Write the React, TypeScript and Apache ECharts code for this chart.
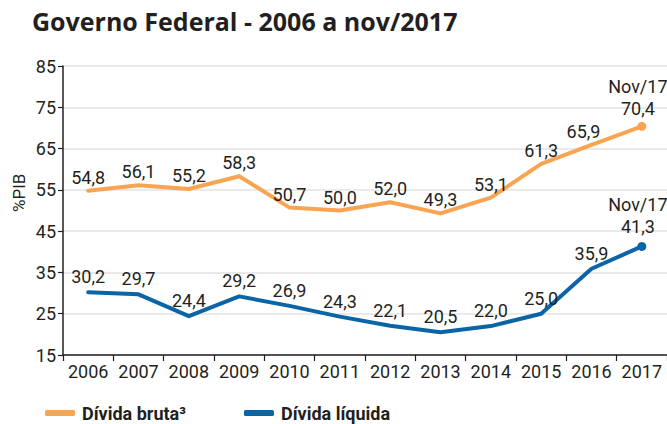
import React, { useEffect, useRef } from "react";
import * as echarts from "echarts";

const categories = ["2006", "2007", "2008", "2009", "2010", "2011", "2012", "2013", "2014", "2015", "2016", "2017"];
const dividaBruta = [54.8, 56.1, 55.2, 58.3, 50.7, 50.0, 52.0, 49.3, 53.1, 61.3, 65.9, 70.4];
const dividaLiquida = [30.2, 29.7, 24.4, 29.2, 26.9, 24.3, 22.1, 20.5, 22.0, 25.0, 35.9, 41.3];
const lastLabel = "Nov/17";

const COND = "Roboto, sans-serif";
const TXT = "#231f20";
const ORANGE = "#F8A452";
const BLUE = "#0A64A6";

const fmt = (v: number) => v.toFixed(1).replace(".", ",");

function makeData(values: number[], offsets: Record<number, [number, number]>) {
  return values.map((v, i) => {
    const last = i === values.length - 1;
    const item: any = { value: v };
    if (last) {
      item.symbolSize = 9;
    }
    if (offsets[i]) {
      item.label = { offset: offsets[i] };
    }
    return item;
  });
}

export default function App() {
  const ref = useRef<HTMLDivElement>(null);
  useEffect(() => {
    if (!ref.current) return;
    const chart = echarts.init(ref.current, undefined, { renderer: "svg" });
    const labelCfg = {
      show: true,
      position: "top",
      distance: 2,
      fontFamily: COND,
      fontSize: 18,
      color: TXT,
      lineHeight: 22,
      formatter: (p: any) =>
        p.dataIndex === categories.length - 1 ? lastLabel + "\n" + fmt(p.value) : fmt(p.value),
    };
    chart.setOption({
      animation: false,
      title: {
        text: "Governo Federal - 2006 a nov/2017",
        left: 32,
        top: 8,
        padding: 0,
        textStyle: { fontFamily: "'Open Sans'", fontWeight: "bold", fontSize: 25, color: TXT },
      },
      grid: { left: 63, right: 0, top: 66, bottom: 69, containLabel: false },
      legend: {
        left: 45,
        top: 404,
        padding: 0,
        itemWidth: 30,
        itemHeight: 6,
        itemGap: 58,
        icon: "roundRect",
        textStyle: {
          fontFamily: COND,
          fontSize: 18,
          fontWeight: "bold",
          color: TXT,
          padding: [0, 0, 0, 2],
        },
        data: ["Dívida bruta³", "Dívida líquida"],
      },
      graphic: [
        {
          type: "text",
          x: 10,
          y: 212,
          rotation: Math.PI / 2,
          style: { text: "%PIB", fontFamily: COND, fontSize: 17, fill: TXT },
        },
      ],
      xAxis: {
        type: "category",
        data: categories,
        boundaryGap: true,
        axisLine: { lineStyle: { color: TXT, width: 1.5 } },
        axisTick: { show: true, length: 6, inside: false, lineStyle: { color: TXT, width: 1.2 } },
        axisLabel: { fontFamily: COND, fontSize: 18, color: TXT, margin: 7, interval: 0 },
        splitLine: { show: false },
      },
      yAxis: {
        type: "value",
        min: 15,
        max: 85,
        interval: 10,
        axisLine: { show: true, lineStyle: { color: TXT, width: 1.5 } },
        axisTick: { show: true, length: 5, lineStyle: { color: TXT, width: 1.2 } },
        axisLabel: { fontFamily: COND, fontSize: 18, color: TXT, margin: 7 },
        splitLine: { show: true, lineStyle: { color: "#e3e3e3", width: 1.5 } },
      },
      series: [
        {
          name: "Dívida bruta³",
          type: "line",
          data: makeData(dividaBruta, { 10: [-8, 0], 11: [-4, 0] }),
          symbol: "circle",
          symbolSize: 1,
          showSymbol: true,
          color: ORANGE,
          lineStyle: { color: ORANGE, width: 4, cap: "round", join: "round" },
          itemStyle: { color: ORANGE },
          label: labelCfg,
        },
        {
          name: "Dívida líquida",
          type: "line",
          data: makeData(dividaLiquida, { 11: [-4, 0] }),
          symbol: "circle",
          symbolSize: 1,
          showSymbol: true,
          color: BLUE,
          lineStyle: { color: BLUE, width: 4, cap: "round", join: "round" },
          itemStyle: { color: BLUE },
          label: { ...labelCfg, distance: 4 },
        },
      ],
    });
    return () => chart.dispose();
  }, []);
  return (
    <div
      ref={ref}
      style={{ position: "absolute", left: 0, top: 0, width: 667, height: 424 }}
    />
  );
}
